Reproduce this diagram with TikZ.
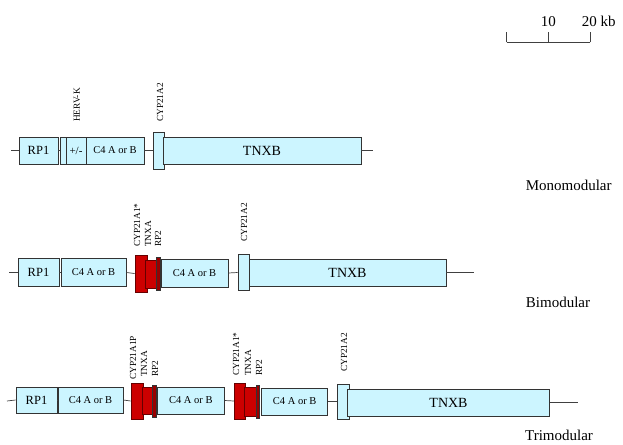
\documentclass[tikz,border=0pt]{standalone}
\usepackage{fontspec}
\setmainfont{Liberation Serif}
\usetikzlibrary{positioning}
\definecolor{genecyan}{RGB}{204,245,255}
\definecolor{genered}{RGB}{204,0,0}

\begin{document}
\begin{tikzpicture}[x=1pt,y=-1pt,
  gene/.style={draw=black!80,fill=genecyan,line width=0.8pt,inner sep=0pt,font=\fontsize{10.5}{12}\selectfont},
  pseudo/.style={draw=red!40!black,fill=genered,line width=0.8pt,inner sep=0pt},
  tag/.style={rotate=90,anchor=west,inner sep=0pt,font=\fontsize{9.3}{10}\selectfont},
  title/.style={anchor=base,inner sep=0pt,font=\fontsize{15}{17}\selectfont},
  link/.style={draw=black!75,line width=0.7pt}]
  \useasboundingbox (0,0) rectangle (623,444);

  % scale bar
  \coordinate (s0) at (506.7,42.3);
  \coordinate (s10) at (548.3,42.3);
  \coordinate (s20) at (590,42.3);
  \draw[link] (s0) -- (s20);
  \draw[link] (s0) -- ++(0,-10.6);
  \draw[link] (s10) -- ++(0,-10.6);
  \draw[link] (s20) -- ++(0,-10.6);
  \node[title] (t10) at (548.3,26.7) {10};
  \node[title,anchor=base west] (t20) at (581.7,26.7) {20 kb};

  % monomodular
  \coordinate (a0) at (11,150.5);
  \node[gene,minimum width=39pt,minimum height=27pt,font=\fontsize{12.5}{14}\selectfont] (arp) at (38.5,150.5) {RP1};
  \node[gene,minimum width=6pt,minimum height=27pt] (aherv) at (63,150.5) {};
  \node[gene,minimum width=20pt,minimum height=27pt,font=\fontsize{11}{12}\selectfont] (apm) at (76,150.5) {+/-};
  \node[gene,minimum width=58pt,minimum height=27pt] (ac4) at (115,150.5) {C4 A or B};
  \node[gene,minimum width=11pt,minimum height=37pt] (acyp) at (158.5,150.5) {};
  \node[gene,minimum width=198pt,minimum height=27pt,font=\fontsize{14}{16}\selectfont] (atnxb) at (262,150.5) {TNXB};
  \coordinate (a1) at (373,150.5);
  \draw[link] (a0) -- (arp.west);
  \draw[link] (arp.east) -- (aherv.west);
  \draw[link] (ac4.east) -- (acyp.west);
  \draw[link] (atnxb.east) -- (a1);
  \node[tag] (lherv) at (77,122) {HERV-K};
  \node[tag] (lacyp) at (160,122) {CYP21A2};
  \node[title] (lmono) at (568.7,190.7) {Monomodular};

  % bimodular
  \coordinate (b0) at (9,272.5);
  \node[gene,minimum width=41pt,minimum height=28pt,font=\fontsize{12.5}{14}\selectfont] (brp) at (38.5,272.5) {RP1};
  \node[gene,minimum width=65pt,minimum height=28pt] (bc4) at (93.5,272.5) {C4 A or B};
  \node[pseudo,minimum width=12pt,minimum height=37pt] (bcyp1) at (141,273.5) {};
  \node[pseudo,minimum width=12pt,minimum height=28pt] (btnxa) at (151,274) {};
  \node[pseudo,fill=red!60!black,draw=black!80,minimum width=3.3pt,minimum height=33pt] (brp2) at (158.3,273.5) {};
  \node[gene,minimum width=67pt,minimum height=28pt] (bc4b) at (194.5,273) {C4 A or B};
  \node[gene,minimum width=11pt,minimum height=36pt] (bcyp) at (243.5,272.5) {};
  \node[gene,minimum width=197pt,minimum height=27pt,font=\fontsize{14}{16}\selectfont] (btnxb) at (347.5,272.5) {TNXB};
  \coordinate (b1) at (474,272.5);
  \draw[link] (b0) -- (brp.west);
  \draw[link] (brp.east) -- (bc4.west);
  \draw[link] (bc4.east) -- (bcyp1.west);
  \draw[link] (bc4b.east) -- (bcyp.west);
  \draw[link] (btnxb.east) -- (b1);
  \node[tag] (lbcyp1) at (137,247) {CYP21A1*};
  \node[tag] (lbtnxa) at (148,247) {TNXA};
  \node[tag] (lbrp2) at (158,247) {RP2};
  \node[tag] (lbcyp) at (244,242) {CYP21A2};
  \node[title] (lbi) at (558,307) {Bimodular};

  % trimodular
  \coordinate (c0) at (7,401);
  \node[gene,minimum width=41pt,minimum height=26pt,font=\fontsize{12.5}{14}\selectfont] (crp) at (36.5,400) {RP1};
  \node[gene,minimum width=65pt,minimum height=26pt] (cc4) at (90.5,400) {C4 A or B};
  \node[pseudo,minimum width=12pt,minimum height=36pt] (ccyp1) at (137,401) {};
  \node[pseudo,minimum width=12pt,minimum height=27pt] (ctnxa) at (148,400.5) {};
  \node[pseudo,fill=red!60!black,draw=black!80,minimum width=4pt,minimum height=32pt] (crp2) at (154.7,401) {};
  \node[gene,minimum width=67pt,minimum height=27pt] (cc4b) at (190.8,400.5) {C4 A or B};
  \node[pseudo,minimum width=11.4pt,minimum height=36pt] (ccyp2) at (240,401) {};
  \node[pseudo,minimum width=12.4pt,minimum height=28.7pt] (ctnxa2) at (250.5,402) {};
  \node[pseudo,fill=red!60!black,draw=black!80,minimum width=3.3pt,minimum height=33pt] (crp2b) at (257.7,401.5) {};
  \node[gene,minimum width=66pt,minimum height=27pt] (cc4c) at (294.7,401.5) {C4 A or B};
  \node[gene,minimum width=11.3pt,minimum height=35pt] (ccyp) at (343.3,401.5) {};
  \node[gene,minimum width=201.6pt,minimum height=27pt,font=\fontsize{14}{16}\selectfont] (ctnxb) at (448.5,402.5) {TNXB};
  \coordinate (c1) at (578,402.5);
  \draw[link] (c0) -- (crp.west);
  \draw[link] (crp.east) -- (cc4.west);
  \draw[link] (cc4.east) -- (ccyp1.west);
  \draw[link] (cc4b.east) -- (ccyp2.west);
  \draw[link] (cc4c.east) -- (ccyp.west);
  \draw[link] (ctnxb.east) -- (c1);
  \node[tag] (lccyp1) at (133,380) {CYP21A1P};
  \node[tag] (lctnxa) at (144,377) {TNXA};
  \node[tag] (lcrp2) at (155,377) {RP2};
  \node[tag] (lccyp2) at (236,376) {CYP21A1*};
  \node[tag] (lctnxa2) at (248,376) {TNXA};
  \node[tag] (lcrp2b) at (259,376) {RP2};
  \node[tag] (lccyp) at (344,372) {CYP21A2};
  \node[title] (ltri) at (559,440.5) {Trimodular};
\end{tikzpicture}
\end{document}
